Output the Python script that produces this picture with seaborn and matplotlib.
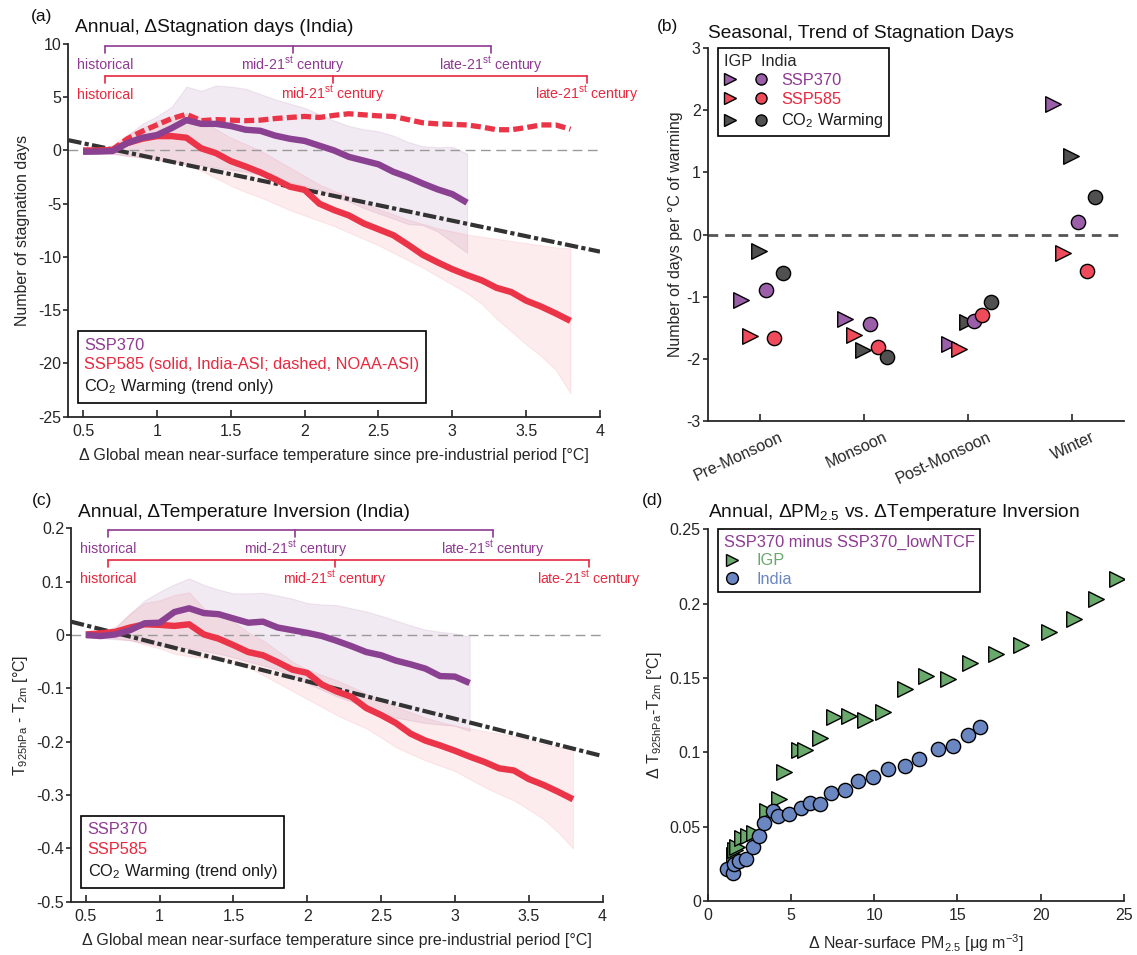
import numpy as np
import matplotlib
matplotlib.use('Agg')
import matplotlib.pyplot as plt
import matplotlib.transforms as mtransforms
from matplotlib.lines import Line2D
from matplotlib.legend_handler import HandlerTuple
import seaborn as sns

sns.set_theme(style='white')
plt.rcParams['font.family'] = ['Liberation Sans', 'DejaVu Sans']
plt.rcParams['mathtext.fontset'] = 'custom'
plt.rcParams['mathtext.rm'] = 'Liberation Sans'
plt.rcParams['mathtext.default'] = 'regular'
plt.rcParams['axes.unicode_minus'] = False

# ---------------- data ----------------
gmst_370 = [0.5, 0.6, 0.7, 0.8, 0.9, 1.0, 1.1, 1.2, 1.3, 1.4, 1.5, 1.6, 1.7, 1.8, 1.9,
            2.0, 2.1, 2.2, 2.3, 2.4, 2.5, 2.6, 2.7, 2.8, 2.9, 3.0, 3.1]
gmst_585 = [0.5, 0.6, 0.7, 0.8, 0.9, 1.0, 1.1, 1.2, 1.3, 1.4, 1.5, 1.6, 1.7, 1.8, 1.9,
            2.0, 2.1, 2.2, 2.3, 2.4, 2.5, 2.6, 2.7, 2.8, 2.9, 3.0, 3.1, 3.2, 3.3, 3.4,
            3.5, 3.6, 3.7, 3.8]
co2_trend_x = [0.4, 4.0]

# (a) stagnation days
stag_370 = [-0.12, -0.1, -0.05, 0.7, 1.2, 1.45, 2.1, 2.85, 2.5, 2.5, 2.3, 1.95, 1.85, 1.4, 1.1,
            0.9, 0.45, 0.0, -0.6, -0.95, -1.3, -2.0, -2.5, -3.1, -3.65, -4.1, -4.9]
stag_370_hi = [0.1, 0.1, 0.3, 1.4, 2.5, 3.2, 4.1, 6.0, 5.6, 6.1, 6.0, 5.8, 5.3, 4.8, 4.4,
               4.0, 3.4, 2.8, 2.3, 2.0, 1.8, 1.4, 0.8, 0.4, 0.3, 0.35, -0.3]
stag_370_lo = [-0.3, -0.3, -0.3, -0.5, -0.6, -0.8, -1.0, -1.3, -1.4, -1.6, -1.8, -2.0, -2.3, -2.6, -3.0,
               -3.3, -3.7, -4.3, -4.8, -5.4, -5.9, -6.4, -6.9, -7.0, -7.6, -8.6, -9.6]
stag_585_india = [0.0, 0.0, 0.05, 0.7, 1.1, 1.35, 1.35, 1.2, 0.2, -0.25, -1.0, -1.5, -2.05, -2.7, -3.4,
                  -3.7, -5.0, -5.6, -6.1, -6.85, -7.4, -7.95, -8.85, -9.8, -10.5, -11.15, -11.7, -12.2,
                  -12.9, -13.3, -14.1, -14.65, -15.3, -16.0]
stag_585_noaa = [0.0, 0.0, 0.1, 1.1, 1.8, 2.4, 3.0, 3.4, 2.8, 2.9, 2.85, 2.8, 2.85, 3.0, 3.1,
                 3.2, 3.1, 3.3, 3.45, 3.35, 3.25, 3.2, 2.9, 2.6, 2.5, 2.45, 2.4, 2.2, 1.95, 1.95,
                 2.15, 2.4, 2.4, 2.0]
stag_585_hi = [0.1, 0.1, 0.5, 1.5, 2.1, 2.8, 3.2, 3.5, 3.0, 2.0, 1.2, 0.6, 0.0, -0.8, -1.6,
               -2.4, -3.2, -3.8, -4.3, -4.9, -5.5, -6.0, -6.5, -6.9, -7.3, -7.6, -7.9, -8.1,
               -8.3, -8.5, -8.7, -8.9, -9.1, -9.2]
stag_585_lo = [-0.2, -0.2, -0.3, -0.5, -0.7, -0.9, -1.1, -1.3, -1.9, -2.6, -3.3, -3.9, -4.4, -5.0,
               -5.6, -6.1, -6.6, -7.1, -7.7, -8.3, -8.9, -9.6, -10.3, -11.0, -11.8, -12.6, -13.4,
               -14.4, -15.8, -17.0, -18.2, -19.3, -20.6, -22.8]
stag_co2_trend = [0.97, -9.5]

# (c) temperature inversion
inv_370 = [0.0, -0.002, 0.001, 0.009, 0.022, 0.023, 0.043, 0.05, 0.041, 0.039, 0.031, 0.023, 0.025,
           0.014, 0.009, 0.004, -0.002, -0.011, -0.021, -0.032, -0.038, -0.048, -0.055, -0.063,
           -0.077, -0.078, -0.09]
inv_370_hi = [0.005, 0.006, 0.015, 0.04, 0.065, 0.081, 0.095, 0.106, 0.094, 0.085, 0.078, 0.078,
              0.079, 0.074, 0.068, 0.06, 0.057, 0.056, 0.05, 0.044, 0.036, 0.027, 0.018, 0.01,
              0.006, 0.003, -0.003]
inv_370_lo = [-0.005, -0.006, -0.008, -0.01, -0.015, -0.02, -0.022, -0.025, -0.03, -0.035, -0.042,
              -0.05, -0.057, -0.065, -0.077, -0.09, -0.103, -0.115, -0.125, -0.135, -0.145, -0.155,
              -0.16, -0.165, -0.168, -0.17, -0.18]
inv_585 = [0.001, 0.003, 0.006, 0.014, 0.02, 0.019, 0.017, 0.02, 0.001, -0.007, -0.019, -0.032,
           -0.038, -0.051, -0.065, -0.071, -0.093, -0.106, -0.116, -0.137, -0.15, -0.165, -0.185,
           -0.198, -0.207, -0.217, -0.228, -0.238, -0.25, -0.254, -0.27, -0.281, -0.294, -0.308]
inv_585_hi = [0.005, 0.006, 0.012, 0.04, 0.06, 0.065, 0.075, 0.08, 0.05, 0.04, 0.025, 0.005, -0.01,
              -0.03, -0.05, -0.065, -0.075, -0.085, -0.097, -0.11, -0.122, -0.135, -0.145, -0.155,
              -0.163, -0.17, -0.175, -0.18, -0.185, -0.19, -0.197, -0.205, -0.21, -0.215]
inv_585_lo = [-0.003, -0.004, -0.006, -0.01, -0.018, -0.025, -0.035, -0.04, -0.043, -0.045, -0.052,
              -0.06, -0.075, -0.09, -0.105, -0.12, -0.135, -0.15, -0.163, -0.175, -0.192, -0.21,
              -0.223, -0.235, -0.245, -0.255, -0.27, -0.285, -0.298, -0.31, -0.327, -0.345, -0.37, -0.4]
inv_co2_trend = [0.025, -0.227]

# period markers (GMST at which each period is reached)
period_labels = ['historical', 'mid-21$^{st}$ century', 'late-21$^{st}$ century']
period_gmst_370 = [0.65, 1.92, 3.26]
period_gmst_585 = [0.65, 2.19, 3.91]

# (b) seasonal trends (days per degC)
seasons = ['Pre-Monsoon', 'Monsoon', 'Post-Monsoon', 'Winter']
igp_370 = [-1.06, -1.36, -1.76, 2.10]
igp_585 = [-1.63, -1.62, -1.84, -0.30]
igp_co2 = [-0.26, -1.86, -1.41, 1.27]
ind_370 = [-0.90, -1.45, -1.40, 0.20]
ind_585 = [-1.67, -1.82, -1.30, -0.59]
ind_co2 = [-0.62, -1.97, -1.08, 0.60]

# (d) PM2.5 vs inversion
pm_igp = [1.58, 1.64, 1.74, 2.04, 2.44, 2.78, 3.54, 4.28, 4.58, 5.5, 5.84, 6.74, 7.58, 8.5,
          9.44, 10.5, 11.84, 13.08, 14.44, 15.74, 17.34, 18.84, 20.5, 21.98, 23.3, 24.58]
inv_igp = [0.0309, 0.0343, 0.0365, 0.0422, 0.0437, 0.0455, 0.0608, 0.0684, 0.0868, 0.1016,
           0.1016, 0.1096, 0.1238, 0.1244, 0.1217, 0.1269, 0.1424, 0.1513, 0.1491, 0.1599,
           0.1659, 0.1722, 0.1812, 0.1895, 0.2031, 0.2166]
pm_ind = [1.18, 1.5, 1.6, 1.9, 2.3, 2.7, 3.1, 3.4, 3.9, 4.2, 4.86, 5.58, 6.14, 6.74, 7.4,
          8.22, 9.04, 9.94, 10.8, 11.84, 12.7, 13.84, 14.74, 15.64, 16.38]
inv_ind = [0.0213, 0.019, 0.0249, 0.0269, 0.0283, 0.0365, 0.0437, 0.0527, 0.0608, 0.0572,
           0.0583, 0.0628, 0.0657, 0.0652, 0.0724, 0.0747, 0.0807, 0.0832, 0.0886, 0.091,
           0.0955, 0.1025, 0.1043, 0.1114, 0.117]

# ---------------- style ----------------
C370 = '#8a4191'
C585 = '#eb3447'
T370 = '#8e3a92'
T585 = '#e8283e'
CCO2 = '#333333'
AXC = '#262626'
M370 = '#9b5ea8'
M585 = '#ef4b5b'
MCO2 = '#505050'
GREEN = '#6aa96c'
BLUE = '#6a87c2'
FS_TICK = 11.5
FS_LAB = 11.5
FS_LEG = 11.8
FS_TITLE = 13.8

W, H = 1137, 955
fig = plt.figure(figsize=(W / 100, H / 100), dpi=100)


def px_axes(l, t, r, b):
    return fig.add_axes([l / W, 1 - b / H, (r - l) / W, (b - t) / H])


def style_axes(ax):
    sns.despine(ax=ax)
    for s in ['left', 'bottom']:
        ax.spines[s].set_color(AXC)
        ax.spines[s].set_linewidth(1.3)
    ax.tick_params(axis='x', direction='in', length=5, width=1.2, colors=AXC,
                   labelsize=FS_TICK, pad=5, bottom=True)
    ax.tick_params(axis='y', direction='out', length=3.5, width=1.2, colors=AXC,
                   labelsize=FS_TICK, pad=1.5, left=True)


def fmt(v):
    return f'{v:g}'


def draw_periods(ax, xs, y, tick, label_y, color):
    ax.plot([xs[0], xs[-1]], [y, y], color=color, lw=1.2, clip_on=False, zorder=4)
    for xv, lab in zip(xs, period_labels):
        ax.plot([xv, xv], [y, y - tick], color=color, lw=1.2, clip_on=False, zorder=4)
        ax.text(xv, label_y, lab, color=color, ha='center', va='baseline', fontsize=10.2)


def text_legend(ax, labels, colors, anchor):
    handles = [Line2D([], [], color='none') for _ in labels]
    leg = ax.legend(handles, labels, loc='lower left', bbox_to_anchor=anchor,
                    handlelength=0, handletextpad=0, frameon=True, fancybox=False,
                    edgecolor='black', borderaxespad=0, fontsize=FS_LEG,
                    labelspacing=0.3, borderpad=0.4, framealpha=1)
    for t, c in zip(leg.get_texts(), colors):
        t.set_color(c)
    leg.get_frame().set_linewidth(1.2)
    return leg


def trend_panel(ax, y370, lo370, hi370, y585, lo585, hi585, co2, ylim, yticks,
                ybr, extra=None):
    ax.fill_between(gmst_370, lo370, hi370, color=C370, alpha=0.11, lw=0.8, zorder=1)
    ax.fill_between(gmst_585, lo585, hi585, color=C585, alpha=0.09, lw=0.8, zorder=1)
    ax.axhline(0, color='#9a9a9a', lw=1.0, ls=(0, (7, 4)), zorder=2)
    sns.lineplot(x=co2_trend_x, y=co2, ax=ax, color=CCO2, lw=3.0,
                 linestyle=(0, (3.2, 0.8, 1.0, 0.8)), zorder=3, estimator=None)
    if extra is not None:
        sns.lineplot(x=gmst_585, y=extra, ax=ax, color=C585, lw=3.8,
                     linestyle=(0, (1.9, 0.8)), zorder=4, estimator=None)
    sns.lineplot(x=gmst_585, y=y585, ax=ax, color=C585, lw=4.6, zorder=5,
                 estimator=None, solid_capstyle='butt')
    sns.lineplot(x=gmst_370, y=y370, ax=ax, color=C370, lw=4.6, zorder=6,
                 estimator=None, solid_capstyle='butt')
    ax.set_xlim(0.4, 4.0)
    ax.set_ylim(*ylim)
    xt = [0.5, 1, 1.5, 2, 2.5, 3, 3.5, 4]
    ax.set_xticks(xt)
    ax.set_xticklabels([fmt(v) for v in xt])
    ax.set_yticks(yticks)
    ax.set_yticklabels([fmt(v) for v in yticks])
    style_axes(ax)
    (p_y, p_t, p_l), (r_y, r_t, r_l) = ybr
    draw_periods(ax, period_gmst_370, p_y, p_t, p_l, T370)
    draw_periods(ax, period_gmst_585, r_y, r_t, r_l, T585)
    ax.set_xlabel('Δ Global mean near-surface temperature since pre-industrial period [°C]',
                  fontsize=FS_LAB, color=AXC)


# ---------------- panel (a) ----------------
ax_a = px_axes(68.3, 44, 600, 416.7)
trend_panel(ax_a, stag_370, stag_370_lo, stag_370_hi, stag_585_india, stag_585_lo, stag_585_hi,
            stag_co2_trend, (-25, 10), [-25, -20, -15, -10, -5, 0, 5, 10],
            ((9.78, 0.62, 7.65), (6.97, 0.62, 4.85)), extra=stag_585_noaa)
ax_a.set_ylabel('Number of stagnation days', fontsize=FS_LAB, color=AXC)
ax_a.yaxis.set_label_coords(-0.072, 0.5)
ax_a.xaxis.set_label_coords(0.5, -0.085)
text_legend(ax_a, ['SSP370', 'SSP585 (solid, India-ASI; dashed, NOAA-ASI)',
                   'CO$_2$ Warming (trend only)'], [T370, T585, '#1a1a1a'], (0.018, 0.037))

# ---------------- panel (c) ----------------
ax_c = px_axes(71, 528.3, 602.5, 901.7)
trend_panel(ax_c, inv_370, inv_370_lo, inv_370_hi, inv_585, inv_585_lo, inv_585_hi,
            inv_co2_trend, (-0.5, 0.2), [-0.5, -0.4, -0.3, -0.2, -0.1, 0, 0.1, 0.2],
            ((0.197, 0.0125, 0.153), (0.1406, 0.0135, 0.097)))
ax_c.set_ylabel('T$_{925hPa}$ - T$_{2m}$ [°C]', fontsize=FS_LAB, color=AXC)
ax_c.yaxis.set_label_coords(-0.077, 0.5)
ax_c.xaxis.set_label_coords(0.5, -0.085)
text_legend(ax_c, ['SSP370', 'SSP585', 'CO$_2$ Warming (trend only)'],
            [T370, T585, '#1a1a1a'], (0.019, 0.037))

# ---------------- panel (b) ----------------
ax_b = px_axes(707.7, 48.3, 1124, 420.7)
ax_b.axhline(0, color='#555555', lw=2.0, ls=(0, (3.5, 2.5)), zorder=1)
pos = np.array([1, 2, 3, 4])
tri_off = [-0.18, -0.09, -0.01]
cir_off = [0.06, 0.14, 0.22]
mcols = [M370, M585, MCO2]
for vals, off, col in zip([igp_370, igp_585, igp_co2], tri_off, mcols):
    sns.scatterplot(x=pos + off, y=vals, ax=ax_b, marker='>', s=125, color=col,
                    edgecolor='black', linewidth=1.0, zorder=3, legend=False)
for vals, off, col in zip([ind_370, ind_585, ind_co2], cir_off, mcols):
    sns.scatterplot(x=pos + off, y=vals, ax=ax_b, marker='o', s=105, color=col,
                    edgecolor='black', linewidth=1.0, zorder=4, legend=False)
ax_b.set_xlim(0.5, 4.5)
ax_b.set_ylim(-3, 3)
ax_b.set_yticks([-3, -2, -1, 0, 1, 2, 3])
ax_b.set_yticklabels([fmt(v) for v in [-3, -2, -1, 0, 1, 2, 3]])
ax_b.set_xticks(pos)
ax_b.set_xticklabels(seasons, rotation=25, ha='right', va='top', rotation_mode='anchor')
style_axes(ax_b)
off_tr = mtransforms.ScaledTranslation(0.19, -0.02, fig.dpi_scale_trans)
for lab in ax_b.get_xticklabels():
    lab.set_transform(lab.get_transform() + off_tr)
ax_b.set_ylabel('Number of days per °C of warming', fontsize=FS_LAB, color=AXC)
ax_b.yaxis.set_label_coords(-0.059, 0.5)

hb = []
for col in mcols:
    hb.append((Line2D([], [], marker='>', ls='none', mfc=col, mec='black', ms=8.5, mew=1.0),
               Line2D([], [], marker='o', ls='none', mfc=col, mec='black', ms=8.0, mew=1.0)))
leg_b = ax_b.legend(hb, ['SSP370', 'SSP585', 'CO$_2$ Warming'],
                    handler_map={tuple: HandlerTuple(ndivide=None, pad=1.2)},
                    title='IGP  India', alignment='left', loc='upper left',
                    bbox_to_anchor=(0.025, 1.0), borderaxespad=0, fancybox=False,
                    edgecolor='black', fontsize=FS_LEG, title_fontsize=FS_LEG,
                    handlelength=2.6, handletextpad=0.9, labelspacing=0.25,
                    borderpad=0.35, framealpha=1)
for t, c in zip(leg_b.get_texts(), [T370, T585, '#1a1a1a']):
    t.set_color(c)
leg_b.get_frame().set_linewidth(1.2)

# ---------------- panel (d) ----------------
ax_d = px_axes(707.7, 529.3, 1124, 901)
sns.scatterplot(x=pm_igp, y=inv_igp, ax=ax_d, marker='>', s=125, color=GREEN,
                edgecolor='black', linewidth=1.0, zorder=3, legend=False)
sns.scatterplot(x=pm_ind, y=inv_ind, ax=ax_d, marker='o', s=105, color=BLUE,
                edgecolor='black', linewidth=1.0, zorder=4, legend=False)
ax_d.set_xlim(0, 25)
ax_d.set_ylim(0, 0.25)
dx = [0, 5, 10, 15, 20, 25]
dy = [0, 0.05, 0.1, 0.15, 0.2, 0.25]
ax_d.set_xticks(dx)
ax_d.set_xticklabels([fmt(v) for v in dx])
ax_d.set_yticks(dy)
ax_d.set_yticklabels([fmt(v) for v in dy])
style_axes(ax_d)
ax_d.set_xlabel('Δ Near-surface PM$_{2.5}$ [μg m$^{-3}$]', fontsize=FS_LAB, color=AXC)
ax_d.xaxis.set_label_coords(0.5, -0.083)
ax_d.set_ylabel('Δ T$_{925hPa}$-T$_{2m}$ [°C]', fontsize=FS_LAB, color=AXC)
ax_d.yaxis.set_label_coords(-0.105, 0.5)
hd = [Line2D([], [], marker='>', ls='none', mfc=GREEN, mec='black', ms=9, mew=1.0),
      Line2D([], [], marker='o', ls='none', mfc=BLUE, mec='black', ms=8.5, mew=1.0)]
leg_d = ax_d.legend(hd, ['IGP', 'India'], title='SSP370 minus SSP370_lowNTCF',
                    alignment='left', loc='upper left', bbox_to_anchor=(0.025, 1.0),
                    borderaxespad=0, fancybox=False, edgecolor='black', fontsize=FS_LEG,
                    title_fontsize=FS_LEG, handlelength=1.0, handletextpad=1.0,
                    labelspacing=0.2, borderpad=0.35, framealpha=1)
leg_d.get_title().set_color(T370)
for t, c in zip(leg_d.get_texts(), [GREEN, BLUE]):
    t.set_color(c)
leg_d.get_frame().set_linewidth(1.2)

# ---------------- titles and panel letters ----------------
def ftext(x, y, s, size):
    fig.text(x / W, 1 - y / H, s, fontsize=size, ha='left', va='center', color='#111111')

ftext(31, 17, '(a)', 12.5)
ftext(75, 28, 'Annual, ΔStagnation days (India)', FS_TITLE)
ftext(657, 27, '(b)', 12.5)
ftext(708, 33, 'Seasonal, Trend of Stagnation Days', FS_TITLE)
ftext(32, 501, '(c)', 12.5)
ftext(78, 512, 'Annual, ΔTemperature Inversion (India)', FS_TITLE)
ftext(642, 500, '(d)', 12.5)
ftext(708, 512, 'Annual, ΔPM$_{2.5}$ vs. ΔTemperature Inversion', FS_TITLE)

fig.savefig('out.png', dpi=100)
